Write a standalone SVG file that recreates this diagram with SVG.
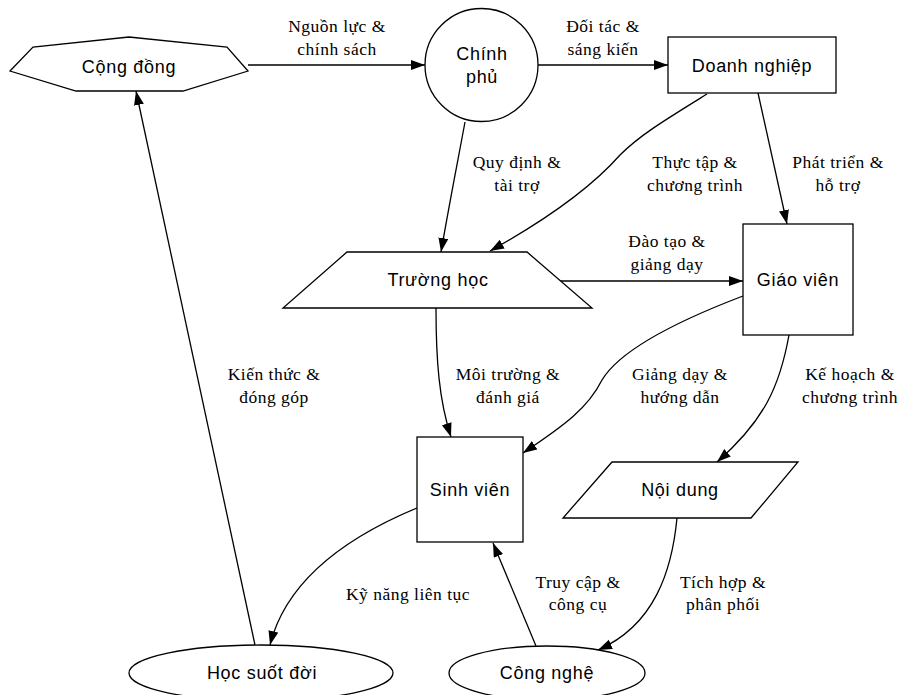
<svg xmlns="http://www.w3.org/2000/svg" width="898" height="695" viewBox="0 0 898 695">
<style>
.shape{fill:#fff;stroke:#000;stroke-width:1.3}
.nl{font-family:"Liberation Sans",Arial,sans-serif;font-size:18px;letter-spacing:0.7px;text-anchor:middle;fill:#000}
.el{font-family:"Liberation Serif","DejaVu Serif",serif;font-size:17.5px;letter-spacing:0.5px;text-anchor:middle;fill:#000}
.edge{fill:none;stroke:#000;stroke-width:1.3;marker-end:url(#ah)}
</style>
<defs>
<marker id="ah" markerUnits="userSpaceOnUse" markerWidth="15" markerHeight="11" refX="14" refY="5" orient="auto">
<path d="M0,0 L14,5 L0,10 z" fill="#000"/>
</marker>
</defs>
<rect width="898" height="695" fill="#fff"/>
<g id="edges">
<path class="edge" d="M248,65 L425,65"/>
<path class="edge" d="M538,65 L668,65"/>
<path class="edge" d="M465,122 C458,160 450,200 441,252"/>
<path class="edge" d="M707,94 C665,120 640,135 620,155 C598,180 560,212 490,251"/>
<path class="edge" d="M758,93 L787,224"/>
<path class="edge" d="M560,281 L743,281"/>
<path class="edge" d="M436,308 C436,360 439,400 451,437"/>
<path class="edge" d="M743,296 C680,320 620,350 602,380 C588,408 565,425 523,453"/>
<path class="edge" d="M789,335 C780,385 765,420 717,462"/>
<path class="edge" d="M417,508 C340,540 285,585 270,645"/>
<path class="edge" d="M255,645 L136,91"/>
<path class="edge" d="M536,646 L493,543"/>
<path class="edge" d="M677,518 C672,570 655,625 598,650"/>
<text class="el" x="337" y="32">Nguồn lực &amp;</text>
<text class="el" x="337" y="55">chính sách</text>
<text class="el" x="603" y="32">Đối tác &amp;</text>
<text class="el" x="603" y="55">sáng kiến</text>
<text class="el" x="517" y="168">Quy định &amp;</text>
<text class="el" x="517" y="191">tài trợ</text>
<text class="el" x="695" y="168">Thực tập &amp;</text>
<text class="el" x="695" y="191">chương trình</text>
<text class="el" x="838" y="168">Phát triển &amp;</text>
<text class="el" x="838" y="191">hỗ trợ</text>
<text class="el" x="667" y="247">Đào tạo &amp;</text>
<text class="el" x="667" y="270">giảng dạy</text>
<text class="el" x="508" y="380">Môi trường &amp;</text>
<text class="el" x="508" y="403">đánh giá</text>
<text class="el" x="680" y="380">Giảng dạy &amp;</text>
<text class="el" x="680" y="403">hướng dẫn</text>
<text class="el" x="850" y="380">Kế hoạch &amp;</text>
<text class="el" x="850" y="403">chương trình</text>
<text class="el" x="274" y="380">Kiến thức &amp;</text>
<text class="el" x="274" y="403">đóng góp</text>
<text class="el" x="408" y="600">Kỹ năng liên tục</text>
<text class="el" x="578" y="588">Truy cập &amp;</text>
<text class="el" x="578" y="610">công cụ</text>
<text class="el" x="723" y="588">Tích hợp &amp;</text>
<text class="el" x="723" y="610">phân phối</text>
</g>
<g id="cong-dong">
<polygon class="shape" points="10,71 33,47 129,37 227,47 248,71 183,91 76,91"/>
<text class="nl" x="129" y="73">Cộng đồng</text>
</g>
<g id="chinh-phu">
<circle class="shape" cx="481.5" cy="65" r="56.5"/>
<text class="nl" x="482" y="60">Chính</text>
<text class="nl" x="482" y="83">phủ</text>
</g>
<g id="doanh-nghiep">
<rect class="shape" x="668" y="37" width="168" height="56"/>
<text class="nl" x="752" y="72">Doanh nghiệp</text>
</g>
<g id="truong-hoc">
<polygon class="shape" points="347,252 527,252 592,308 283,308"/>
<text class="nl" x="438" y="286">Trường học</text>
</g>
<g id="giao-vien">
<rect class="shape" x="743" y="224" width="110" height="111"/>
<text class="nl" x="798" y="286">Giáo viên</text>
</g>
<g id="sinh-vien">
<rect class="shape" x="417" y="437" width="106" height="105"/>
<text class="nl" x="470" y="496">Sinh viên</text>
</g>
<g id="noi-dung">
<polygon class="shape" points="612,462 798,462 751,518 563,518"/>
<text class="nl" x="680" y="496">Nội dung</text>
</g>
<g id="hoc-suot-doi">
<ellipse class="shape" cx="261" cy="673" rx="132" ry="28"/>
<text class="nl" x="262" y="679">Học suốt đời</text>
</g>
<g id="cong-nghe">
<ellipse class="shape" cx="547" cy="673" rx="98" ry="27"/>
<text class="nl" x="547" y="679">Công nghệ</text>
</g>
</svg>
